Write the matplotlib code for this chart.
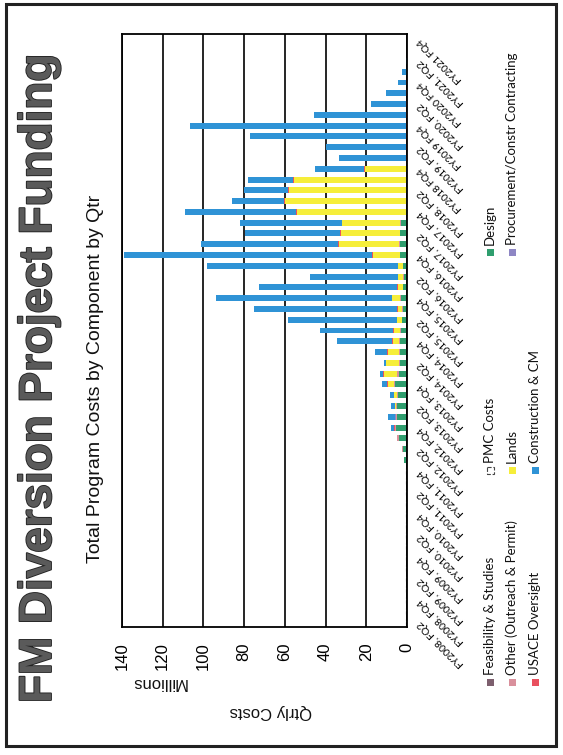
import matplotlib
matplotlib.use("Agg")
import matplotlib.pyplot as plt
import matplotlib.patheffects as pe
from matplotlib.patches import Rectangle
import numpy as np

# Quarterly program costs ($M), FY2008 FQ2 .. FY2021 FQ4 (55 quarters)
n_quarters = 55
tick_labels = [
    "FY2008, FQ2", "FY2008, FQ4", "FY2009, FQ2", "FY2009, FQ4",
    "FY2010, FQ2", "FY2010, FQ4", "FY2011, FQ2", "FY2011, FQ4",
    "FY2012, FQ2", "FY2012, FQ4", "FY2013, FQ2", "FY2013, FQ4",
    "FY2014, FQ2", "FY2014, FQ4", "FY2015, FQ2", "FY2015, FQ4",
    "FY2016, FQ2", "FY2016, FQ4", "FY2017, FQ2", "FY2017, FQ4",
    "FY2018, FQ2", "FY2018 FQ4", "FY2019, FQ2", "FY2019 FQ4",
    "FY2020, FQ2", "FY2020 FQ4", "FY2021, FQ2", "FY2021 FQ4",
]

feasibility = [0]*15 + [0.4, 0.4, 0.5] + [0]*12 + [0.3] + [0]*24
pmc = [0.4]*15 + [0]*40
design = [0]*15 + [0.9, 1.8, 3.6, 5.5, 5.0, 5.0, 4.6, 5.8, 4.0, 3.4, 3.5, 3.3,
                   3.0, 2.4, 2.2, 2.5, 1.8, 1.6, 1.8, 3.2, 3.6, 3.2, 3.0, 0.5,
                   0.4, 0.4, 0.4, 0.3] + [0]*12
other = [0]*16 + [0.2, 0.9, 0.6, 0.5, 0.5, 0.5, 0.5, 0.8, 0.3, 0.6, 0.4, 0.4,
                  0.3, 0.3, 0.4, 0.3, 0.3, 0.3, 0.3, 0.3, 0.4, 0.3] + [0]*17
lands = [0]*20 + [0.3, 1.2, 3.2, 6.6, 6.4, 5.4, 3.4, 3.2, 2.0, 2.0, 4.0, 2.4,
                  2.4, 2.2, 13.1, 29.6, 28.9, 28.4, 53.6, 59.4, 57.8, 55.3,
                  20.3] + [0]*12
procurement = [0]*19 + [0.3] + [0]*35
usace = [0]*18 + [0.2, 0.2, 0.2, 0.2, 0.3, 0.3, 0.2, 0.3, 0.3, 0.3, 0.3, 0.3,
                  0.3, 0.3, 0.3, 0.3, 0.4, 0.4, 0.4, 0.4, 0.4, 0.4, 0.4, 0.4,
                  0.4, 0.7, 0.6, 0.7, 0.7, 0.6, 0.6, 0.5, 0.4] + [0]*4
construction = [0]*18 + [1.6, 3.5, 2.0, 1.7, 2.6, 1.6, 1.1, 6.0, 26.9, 35.6,
                         53.4, 70.5, 86.5, 67.7, 43.1, 93.8, 122.0, 67.1, 46.6,
                         49.9, 54.5, 26.0, 21.4, 21.9, 24.2, 32.6, 39.2, 76.3,
                         106.0, 45.0, 17.0, 10.0, 4.2, 2.5, 0.6, 0, 0]

series_names = ["Feasibility & Studies", "PMC Costs", "Design",
                "Other (Outreach & Permit)", "Lands",
                "Procurement/Constr Contracting", "USACE Oversight",
                "Construction & CM"]
series_values = [feasibility, pmc, design, other, lands, procurement, usace,
                 construction]
series_colors = ["#7d5f6e", "#ffffff", "#2f9e6e", "#d9909c", "#f6ee3a",
                 "#8e86c4", "#e9505f", "#2f93d6"]

W, H = 563, 755
fig = plt.figure(figsize=(W / 100, H / 100), dpi=100)
fig.patch.set_facecolor("white")

# plot area in pixel units (page is laid out sideways)
L, R, T, B = 122, 407, 34, 627
ax = fig.add_axes([L / W, 1 - B / H, (R - L) / W, (B - T) / H])

y = np.arange(n_quarters)
base = np.zeros(n_quarters)
for name, vals, col in zip(series_names, series_values, series_colors):
    vals = np.asarray(vals, dtype=float)
    if name == "PMC Costs":
        ax.barh(y, vals, left=base, height=0.55, color=col, edgecolor="#444444",
                linewidth=0.8, linestyle="--")
    else:
        ax.barh(y, vals, left=base, height=0.55, color=col, edgecolor="none")
    base += vals

ax.set_xlim(140, 0)
ax.set_ylim(-0.5, n_quarters - 0.5)
ax.set_axisbelow(True)
ax.xaxis.grid(True, color="black", linewidth=1.2)

ax.set_xticks(np.arange(0, 141, 20))
ax.set_xticklabels([str(v) for v in range(0, 141, 20)], rotation=90,
                   fontsize=12, family="Liberation Sans")
ax.tick_params(axis="x", length=0, pad=11)

ax.yaxis.tick_right()
ax.set_yticks(np.arange(0, n_quarters, 2))
ax.set_yticklabels(tick_labels, fontsize=7.5, family="Lato",
                   rotation=135, rotation_mode="anchor", ha="right",
                   va="center")
ax.tick_params(axis="y", length=0, pad=9)
for s in ax.spines.values():
    s.set_color("black")
    s.set_linewidth(1.3)

# page overlay in pixel coordinates
ov = fig.add_axes([0, 0, 1, 1], zorder=5)
ov.set_xlim(0, W)
ov.set_ylim(H, 0)
ov.axis("off")
ov.patch.set_alpha(0)

ov.add_patch(Rectangle((6, 4), 550, 742, fill=False, lw=2.2, ec="#222222"))

ov.text(39, 378, "FM Diversion Project Funding", rotation=90, ha="center",
        va="center", fontsize=33, fontweight="bold", color="#5a5a5a",
        family="Liberation Sans",
        path_effects=[pe.withStroke(linewidth=1.3, foreground="#222222")])
ov.text(96, 379, "Total Program Costs by Component by Qtr", rotation=90,
        ha="center", va="center", fontsize=14, color="#111111",
        family="Liberation Sans")
ov.text(159, 682, "Millions", rotation=180, ha="center", va="center",
        fontsize=12, color="#111111", family="Liberation Sans")
ov.text(271, 711, "Qtrly Costs", rotation=180, ha="center", va="center",
        fontsize=12, color="#111111", family="Liberation Sans")

# legend, three entries per row, rows stacked left to right
row_x = [490, 512, 535]
col_y = [682, 470, 252]
for i, (name, col) in enumerate(zip(series_names, series_colors)):
    r, c = divmod(i, 3)
    cx, cy = row_x[r], col_y[c]
    ls = "--" if name == "PMC Costs" else "-"
    ec = "#444444" if name == "PMC Costs" else "none"
    ov.add_patch(Rectangle((cx - 3.5, cy - 3.5), 7, 7, facecolor=col,
                           edgecolor=ec, linestyle=ls, lw=0.8))
    ov.text(cx, cy - 7, name, rotation=90, rotation_mode="anchor",
            ha="left", va="center", fontsize=9.5, family="Lato",
            color="#111111")

fig.savefig("out.png", dpi=100, facecolor="white")
